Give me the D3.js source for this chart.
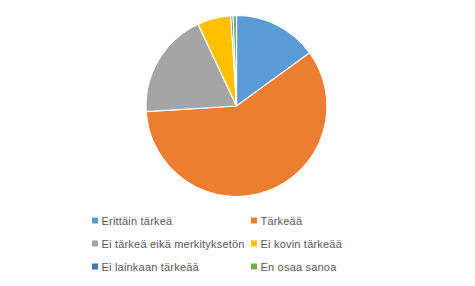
<!DOCTYPE html>
<html>
<head>
<meta charset="utf-8">
<script src="https://d3js.org/d3.v7.min.js"></script>
<style>
  body { margin: 0; background: #fff; }
  text { font-family: "Liberation Sans", Arial, sans-serif; }
</style>
</head>
<body>
<svg width="475" height="286"></svg>
<script>
// answer categories and shares (%)
const categories = ["Erittäin tärkeä", "Tärkeää", "Ei tärkeä eikä merkityksetön",
                    "Ei kovin tärkeää", "Ei lainkaan tärkeää", "En osaa sanoa"];
const shares = [15, 59, 19, 6, 0.4, 0.6];
const colors = ["#5B9BD5", "#ED7D31", "#A5A5A5", "#FFC000", "#4472C4", "#70AD47"];

const svg = d3.select("svg");
const cx = 236.5, cy = 106, radius = 90.5;

const data = categories.map((c, i) => ({ name: c, value: shares[i], color: colors[i] }));

const pie = d3.pie().value(d => d.value).sort(null);
const arc = d3.arc().innerRadius(0).outerRadius(radius);

svg.append("g")
    .attr("transform", `translate(${cx},${cy})`)
    .selectAll("path")
    .data(pie(data))
    .enter()
    .append("path")
    .attr("d", arc)
    .attr("fill", d => d.data.color)
    .attr("stroke", "#fff")
    .attr("stroke-width", 1.2);

// legend, two columns
const legend = svg.append("g");
const item = legend.selectAll("g")
    .data(data)
    .enter()
    .append("g")
    .attr("transform", (d, i) => `translate(${i % 2 === 0 ? 92 : 251},${220.5 + Math.floor(i / 2) * 23})`);

item.append("rect")
    .attr("x", 0)
    .attr("y", -3)
    .attr("width", 6)
    .attr("height", 6)
    .attr("fill", d => d.color);

item.append("text")
    .attr("x", 9.5)
    .attr("y", 4)
    .attr("font-size", 11)
    .attr("letter-spacing", 0.2)
    .attr("fill", "#595959")
    .text(d => d.name);
</script>
</body>
</html>
